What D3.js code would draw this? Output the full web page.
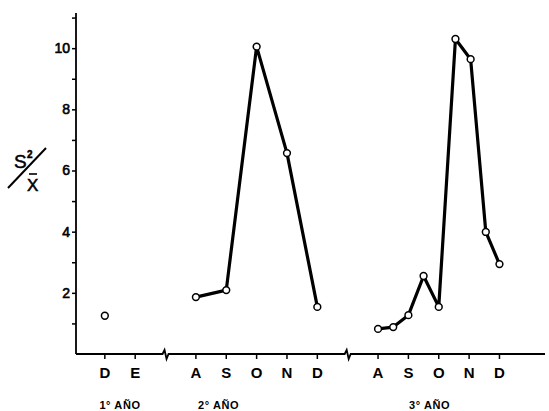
<!DOCTYPE html>
<html>
<head>
<meta charset="utf-8">
<script src="https://cdn.jsdelivr.net/npm/d3@7"></script>
<style>
  body { margin: 0; background: #fff; }
  svg { font-family: "Liberation Sans", Arial, sans-serif; }
</style>
</head>
<body>
<div id="chart"></div>
<script>
// month ticks on a continuous position axis (gaps mark the breaks)
const monthLabels = ["D", "E", "A", "S", "O", "N", "D", "A", "S", "O", "N", "D"];
const monthPos = [0, 1, 3, 4, 5, 6, 7, 9, 10, 11, 12, 13];
const breakPos = [2, 8];
const yearLabels = ["1° AÑO", "2° AÑO", "3° AÑO"];
const yearPos = [0.5, 3.75, 10.7];

const yTicks = [1, 2, 3, 4, 5, 6, 7, 8, 9, 10, 11];

// S²/x̄ values
const year1Pos = [0];
const year1Val = [1.25];
const year2Pos = [3, 4, 5, 6, 7];
const year2Val = [1.86, 2.09, 10.05, 6.57, 1.54];
const year3Pos = [9, 9.5, 10, 10.5, 11, 11.55, 12.05, 12.55, 13];
const year3Val = [0.82, 0.88, 1.27, 2.55, 1.54, 10.3, 9.64, 3.99, 2.94];

const width = 549, height = 411;
const svg = d3.select("#chart").append("svg")
    .attr("width", width)
    .attr("height", height);

const x = d3.scaleLinear().domain([-0.95, 14.5]).range([76, 545]);
const y = d3.scaleLinear().domain([0, 11.15]).range([354, 13]);

// y axis
const yAxis = d3.axisLeft(y)
    .tickValues(yTicks)
    .tickSize(4)
    .tickFormat(d => d % 2 === 0 ? d : "");
const gy = svg.append("g")
    .attr("transform", `translate(${x(-0.95)},0)`)
    .call(yAxis);
gy.select(".domain").attr("d", `M0,${y(0)}V${y(11.15)}`).attr("stroke-width", 1.8);
gy.selectAll(".tick line").attr("stroke-width", 1.5);
gy.selectAll(".tick text")
    .attr("x", -6)
    .attr("font-size", 14)
    .attr("fill", "#000")
    .attr("stroke", "#000")
    .attr("stroke-width", 0.6);

// x axis with break marks
const y0 = y(0);
let xd = `M${x(-0.95)},${y0}`;
breakPos.forEach(b => {
  const bx = x(b);
  xd += `H${bx - 3}L${bx - 1},${y0 - 4}L${bx + 1},${y0 + 5}L${bx + 3},${y0}`;
});
xd += `H${x(14.5)}`;
svg.append("path")
    .attr("d", xd)
    .attr("fill", "none")
    .attr("stroke", "#000")
    .attr("stroke-width", 1.8);

const xg = svg.append("g");
xg.selectAll("line.xt")
  .data(monthPos)
  .join("line")
    .attr("x1", d => x(d)).attr("x2", d => x(d))
    .attr("y1", y0).attr("y2", y0 + 5)
    .attr("stroke", "#000")
    .attr("stroke-width", 1.5);
xg.selectAll("text.xl")
  .data(monthLabels)
  .join("text")
    .attr("x", (d, i) => x(monthPos[i]))
    .attr("y", 378)
    .attr("text-anchor", "middle")
    .attr("font-size", 15)
    .attr("font-weight", "bold")
    .text(d => d);
xg.selectAll("text.yr")
  .data(yearLabels)
  .join("text")
    .attr("x", (d, i) => x(yearPos[i]))
    .attr("y", 409)
    .attr("text-anchor", "middle")
    .attr("font-size", 11)
    .attr("font-weight", "bold")
    .attr("letter-spacing", 0.6)
    .text(d => d);

// y label S²/x̄
const lab = svg.append("g")
    .attr("stroke", "#000").attr("stroke-width", 0.5);
lab.append("text")
    .attr("x", 14).attr("y", 168)
    .attr("font-size", 19)
    .text("S");
lab.append("text")
    .attr("x", 27).attr("y", 158)
    .attr("font-size", 10)
    .attr("font-weight", "bold")
    .text("2");
lab.append("line")
    .attr("x1", 8).attr("y1", 188)
    .attr("x2", 46).attr("y2", 148)
    .attr("stroke-width", 2);
lab.append("text")
    .attr("x", 27).attr("y", 191)
    .attr("font-size", 17)
    .text("X");
lab.append("line")
    .attr("x1", 29).attr("y1", 174)
    .attr("x2", 37).attr("y2", 174)
    .attr("stroke-width", 1.6);

// series
const series = [
  year1Pos.map((p, i) => [p, year1Val[i]]),
  year2Pos.map((p, i) => [p, year2Val[i]]),
  year3Pos.map((p, i) => [p, year3Val[i]])
];
const line = d3.line().x(d => x(d[0])).y(d => y(d[1]));

series.forEach(s => {
  if (s.length > 1) {
    svg.append("path")
        .datum(s)
        .attr("d", line)
        .attr("fill", "none")
        .attr("stroke", "#000")
        .attr("stroke-width", 3.2)
        .attr("stroke-linejoin", "round");
  }
  svg.append("g").selectAll("circle")
    .data(s)
    .join("circle")
      .attr("cx", d => x(d[0]))
      .attr("cy", d => y(d[1]))
      .attr("r", 3.4)
      .attr("fill", "#fff")
      .attr("stroke", "#000")
      .attr("stroke-width", 1.5);
});
</script>
</body>
</html>
